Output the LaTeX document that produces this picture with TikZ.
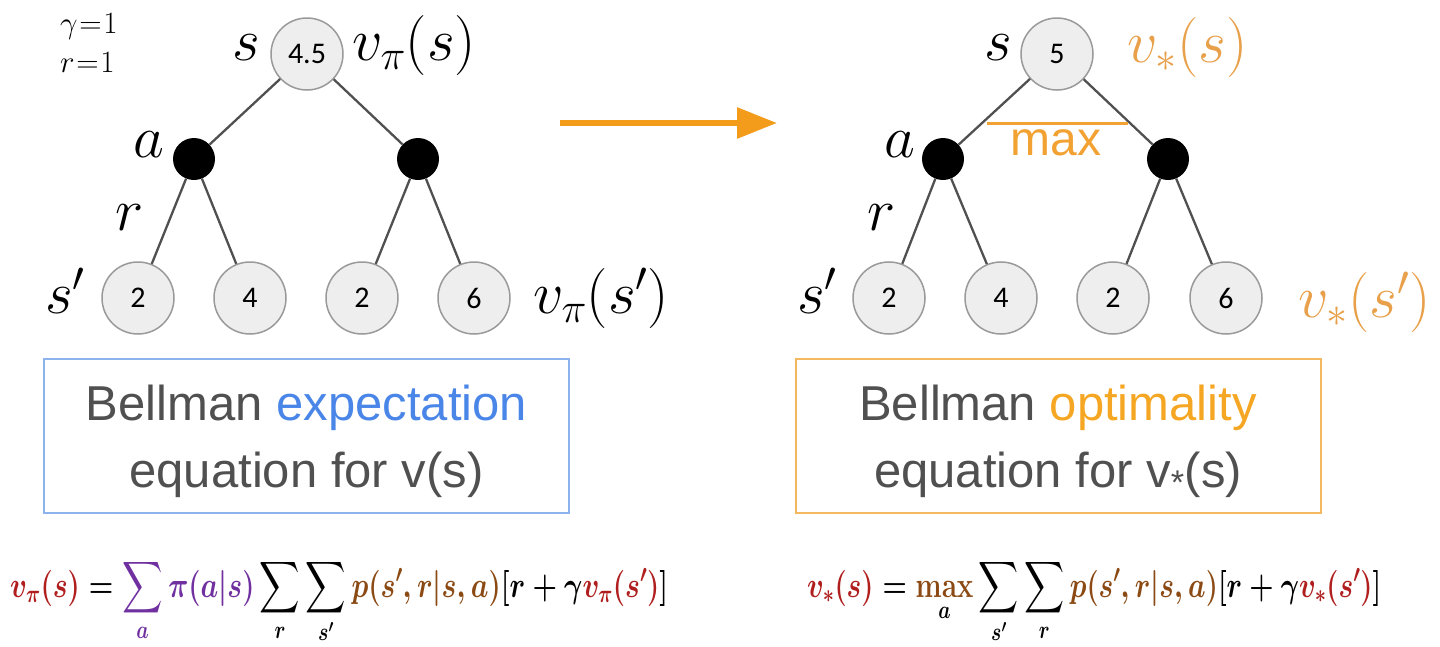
\RequirePackage{fix-cm}
\documentclass[tikz,border=0pt]{standalone}
\usepackage{fontspec}
\usepackage{graphicx}
\usetikzlibrary{arrows.meta}
\DeclareFontShape{OMX}{cmex}{m}{n}{<->cmex10}{}
\newfontfamily\carlito{Carlito}
\newfontfamily\arial{Liberation Sans}
\definecolor{kantegrau}{HTML}{505050}
\definecolor{knotenfill}{HTML}{EEEEEE}
\definecolor{knotenrand}{HTML}{9A9A9A}
\definecolor{pfeilorange}{HTML}{F39B1B}
\definecolor{maxorange}{HTML}{F2A232}
\definecolor{wertorange}{HTML}{E8A04A}
\definecolor{kastenblau}{HTML}{8CB3EE}
\definecolor{textblau}{HTML}{4A86E8}
\definecolor{kastenorange}{HTML}{F4B860}
\definecolor{textorange}{HTML}{F5A623}
\definecolor{textgrau}{HTML}{505050}
\definecolor{eqrot}{HTML}{B01E1E}
\definecolor{eqlila}{HTML}{7030A0}
\definecolor{eqbraun}{HTML}{8B4A14}
\begin{document}
\begin{tikzpicture}[x=1pt,y=-1pt]
\tikzset{zustand/.style={circle,draw=knotenrand,fill=knotenfill,line width=1.5pt,minimum size=72pt,inner sep=0pt,font=\carlito\fontsize{30}{33}\selectfont}}
\tikzset{aktion/.style={circle,fill=black,minimum size=42pt,inner sep=0pt}}
\tikzset{kante/.style={draw=kantegrau,line width=2.3pt}}
\tikzset{marke/.style={inner sep=0pt,anchor=base,font=\fontsize{60}{72}\selectfont}}
\tikzset{kasten/.style={draw,line width=2pt,minimum width=525pt,minimum height=154pt,inner sep=0pt}}
\tikzset{kastentext/.style={inner sep=0pt,anchor=base,text=textgrau,font=\arial\fontsize{49}{58}\selectfont}}
\tikzset{formel/.style={inner sep=0pt,anchor=base west,font=\boldmath\fontsize{36}{42}\selectfont}}
\useasboundingbox (0,0) rectangle (1440,646);
% parameters
\node [marke,anchor=base west,font=\fontsize{31}{34}\selectfont] (g1) at (60,33) {$\gamma\mskip1mu{=}\mskip1mu1$};
\node [marke,anchor=base west,font=\fontsize{31}{34}\selectfont] (r1) at (60,72) {$r\mskip1mu{=}\mskip1mu1$};
% left tree
\node [zustand] (a) at (307,54) {4.5};
\node [aktion] (b) at (194,159) {};
\node [aktion] (c) at (418,159) {};
\node [zustand] (d) at (138,298) {2};
\node [zustand] (e) at (250,298) {4};
\node [zustand] (f) at (362,298) {2};
\node [zustand] (g) at (474,298) {6};
\draw[kante] (a) to (b);
\draw[kante] (a) to (c);
\draw[kante] (b) to (d);
\draw[kante] (b) to (e);
\draw[kante] (c) to (f);
\draw[kante] (c) to (g);
\node [marke] (ls) at (246,60) {$s$};
\node [marke,anchor=base west] (lv) at (352,60) {$v_\pi(s)$};
\node [marke] (la) at (149,157) {$a$};
\node [marke] (lr) at (130,230) {$r$};
\node [marke,anchor=base west] (lt) at (45,313) {$s'$};
\node [marke,anchor=base west] (lw) at (533,313) {$v_\pi(s')$};
% arrow
\coordinate (p) at (560,123);
\coordinate (q) at (777,123);
\draw[pfeilorange,line width=6pt,-{Triangle[length=40pt,width=30pt]}] (p) -- (q);
% right tree
\node [zustand] (h) at (1057,54) {5};
\node [aktion] (i) at (943,159) {};
\node [aktion] (j) at (1168,159) {};
\node [zustand] (k) at (889,298) {2};
\node [zustand] (l) at (1001,298) {4};
\node [zustand] (m) at (1113,298) {2};
\node [zustand] (n) at (1226,298) {6};
\draw[kante] (h) to (i);
\draw[kante] (h) to (j);
\draw[kante] (i) to (k);
\draw[kante] (i) to (l);
\draw[kante] (j) to (m);
\draw[kante] (j) to (n);
\draw[maxorange,line width=3pt] (987,123) -- (1128,123);
\node [marke,text=maxorange,font=\arial\fontsize{48}{56}\selectfont] (mx) at (1056,155) {max};
\node [marke] (rs) at (998,60) {$s$};
\node [marke,anchor=base west,text=wertorange] (rv) at (1127,62) {$v_*(s)$};
\node [marke] (ra) at (900,157) {$a$};
\node [marke] (rr) at (882,230) {$r$};
\node [marke,anchor=base west] (rt) at (797,313) {$s'$};
\node [marke,anchor=base west,text=wertorange] (rw) at (1298,317) {$v_*(s')$};
% boxes
\node [kasten,draw=kastenblau] (u) at (306.5,436) {};
\node [kastentext] (u1) at (306.5,420) {Bellman \textcolor{textblau}{expectation}};
\node [kastentext] (u2) at (306.5,487) {equation for v(s)};
\node [kasten,draw=kastenorange] (v) at (1058,436) {};
\node [kastentext] (v1) at (1058,420) {Bellman \textcolor{textorange}{optimality}};
\node [kastentext] (v2) at (1058,487) {equation for v\textsubscript{*}(s)};
% equations
\node [formel] (eq1) at (10,597) {\resizebox{658pt}{\height}{$\displaystyle {\color{eqrot}v_\pi(s)} = {\color{eqlila}\sum_a \pi(a\vert s)} \sum_r \sum_{s'} {\color{eqbraun}p(s',r\vert s,a)}[r+\gamma {\color{eqrot}v_\pi(s')}]$}};
\node [formel] (eq2) at (807,597) {\resizebox{574pt}{\height}{$\displaystyle {\color{eqrot}v_*(s)} = \mathop{\mathbf{\color{eqbraun}max}}\limits_a \sum_{s'} \sum_r {\color{eqbraun}p(s',r\vert s,a)}[r+\gamma {\color{eqrot}v_*(s')}]$}};
\end{tikzpicture}
\end{document}
